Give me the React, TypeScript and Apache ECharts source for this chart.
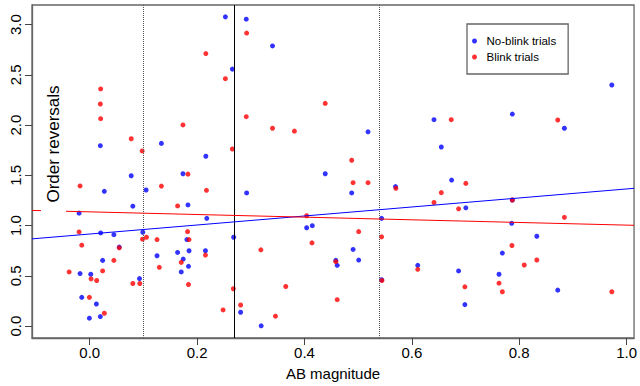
import React, { useEffect, useRef } from "react";
import * as echarts from "echarts";

// No-blink trials: [AB magnitude, order reversals]
const noBlink: number[][] = [
  [0.0198, 1.795], [0.0773, 1.496], [0.1335, 1.818], [0.105, 1.354], [0.0272, 1.341],
  [0.0803, 1.193], [-0.0198, 1.124], [0.0204, 0.927], [0.045, 0.91], [0.0989, 0.934],
  [0.055, 0.786], [0.0241, 0.654], [0.1254, 0.7], [-0.018, 0.523], [0.0019, 0.516],
  [0.0927, 0.473], [-0.0148, 0.286], [0.0124, 0.22], [0.0198, 0.095], [-0.0006, 0.079],
  [0.2527, 3.077], [0.2916, 3.054], [0.3405, 2.788], [0.2657, 2.557], [0.2163, 1.69],
  [0.1737, 1.516], [0.2923, 1.325], [0.183, 1.206], [0.2181, 1.072], [0.4041, 0.979],
  [0.4146, 0.999], [0.181, 0.861], [0.2681, 0.884], [0.1637, 0.733], [0.185, 0.75],
  [0.2156, 0.75], [0.1742, 0.667], [0.184, 0.595], [0.1705, 0.539], [0.2811, 0.138],
  [0.3194, 0.003], [0.5184, 1.933], [0.4387, 1.516], [0.6413, 2.054], [0.6549, 1.782],
  [0.6741, 1.453], [0.5696, 1.388], [0.488, 1.325], [0.7006, 1.177], [0.5437, 1.072],
  [0.4906, 0.763], [0.4584, 0.654], [0.461, 0.605], [0.501, 0.657], [0.5437, 0.461],
  [0.611, 0.605], [0.6871, 0.549], [0.6988, 0.214], [0.9725, 2.399], [0.7872, 2.11],
  [0.8842, 1.969], [0.7872, 1.255], [0.786, 1.023], [0.8328, 0.894], [0.7686, 0.727],
  [0.7624, 0.516], [0.8718, 0.358],
];

// Blink trials: [AB magnitude, order reversals]
const blink: number[][] = [
  [0.0204, 2.36], [0.0198, 2.21], [0.0204, 2.064], [0.0773, 1.864], [0.0977, 1.743],
  [-0.018, 1.395], [-0.0198, 0.937], [0.0983, 0.865], [0.1057, 0.884], [0.1254, 0.861],
  [-0.0148, 0.805], [0.055, 0.779], [0.045, 0.654], [0.1297, 0.585], [-0.0383, 0.539],
  [0.0241, 0.549], [0.0025, 0.47], [0.013, 0.454], [0.0803, 0.424], [0.0933, 0.424],
  [-0.0006, 0.286], [0.0272, 0.128], [0.2923, 2.916], [0.2163, 2.712], [0.2527, 2.462],
  [0.2916, 2.084], [0.1737, 2.002], [0.3405, 1.969], [0.3813, 1.94], [0.2657, 1.762],
  [0.183, 1.512], [0.1335, 1.393], [0.2175, 1.351], [0.1637, 1.196], [0.4041, 1.098],
  [0.414, 0.828], [0.1823, 0.94], [0.185, 0.861], [0.2156, 0.707], [0.3188, 0.759],
  [0.1705, 0.634], [0.184, 0.414], [0.2675, 0.372], [0.3652, 0.394], [0.2811, 0.21],
  [0.2484, 0.161], [0.346, 0.099], [0.4387, 2.216], [0.488, 1.65], [0.4906, 1.427],
  [0.5184, 1.427], [0.6734, 2.054], [0.7006, 1.42], [0.5703, 1.371], [0.6549, 1.328],
  [0.6413, 1.23], [0.6871, 1.167], [0.501, 0.94], [0.5437, 0.888], [0.4584, 0.641],
  [0.5443, 0.454], [0.461, 0.263], [0.611, 0.565], [0.6988, 0.391], [0.8718, 2.051],
  [0.7872, 1.255], [0.8842, 1.082], [0.7865, 0.802], [0.8328, 0.658], [0.8094, 0.608],
  [0.7624, 0.427], [0.7686, 0.342], [0.9725, 0.342],
];

// Regression line endpoints (at the plot edges)
const noBlinkFit: number[][] = [[-0.1075, 0.868], [1.0139, 1.371]];
const blinkFit: number[][] = [[-0.1075, 1.151], [1.0139, 1.003]];

// Vertical reference lines: [x, style]
const refLineX: number[] = [0.0977, 0.2657, 0.5437];
const refLineType: string[] = ["dotted", "solid", "dotted"];

const xTicks: number[] = [0, 0.2, 0.4, 0.6, 0.8, 1.0];
const yTicks: number[] = [0, 0.5, 1.0, 1.5, 2.0, 2.5, 3.0];
const xRange: number[] = [-0.1075, 1.0139];
const yRange: number[] = [-0.1183, 3.195];

const FONT = '"Liberation Sans", Arial, Helvetica, sans-serif';

export default function App() {
  const ref = useRef<HTMLDivElement>(null);
  useEffect(() => {
    if (!ref.current) return;
    const chart = echarts.init(ref.current, null, { renderer: "svg" });
    const axisLine = { show: true, onZero: false, lineStyle: { color: "#666", width: 1.3 } };
    const option: any = {
      animation: false,
      backgroundColor: "#ffffff",
      textStyle: { fontFamily: FONT },
      grid: {
        left: 32, top: 5, right: 3, bottom: 45,
        show: true, borderColor: "#666666", borderWidth: 1.3, backgroundColor: "transparent",
      },
      xAxis: {
        type: "value",
        min: xRange[0], max: xRange[1],
        name: "AB magnitude",
        nameLocation: "middle",
        nameGap: 28,
        nameTextStyle: { fontSize: 15, color: "#000", fontFamily: FONT },
        axisLine,
        splitLine: { show: false },
        axisTick: { show: true, length: 7, customValues: xTicks, lineStyle: { color: "#444", width: 1 } },
        axisLabel: {
          customValues: xTicks, fontSize: 15, color: "#000", margin: 7, fontFamily: FONT,
          formatter: (v: number) => v.toFixed(1),
        },
      },
      yAxis: {
        type: "value",
        min: yRange[0], max: yRange[1],
        axisLine,
        splitLine: { show: false },
        axisTick: { show: true, length: 7, customValues: yTicks, lineStyle: { color: "#444", width: 1 } },
        axisLabel: {
          customValues: yTicks, fontSize: 15, color: "#000", margin: 9, rotate: 90, fontFamily: FONT,
          formatter: (v: number) => v.toFixed(1),
        },
      },
      legend: {
        orient: "vertical",
        left: 467, top: 24,
        padding: [10, 12, 10, 5],
        itemWidth: 14, itemHeight: 5, itemGap: 2,
        backgroundColor: "#fff",
        borderColor: "#666", borderWidth: 1.3,
        textStyle: { fontSize: 11.5, color: "#000", lineHeight: 14, fontFamily: FONT },
        data: [
          { name: "No-blink trials", icon: "circle" },
          { name: "Blink trials", icon: "circle" },
        ],
      },
      graphic: [
        { type: "rect", z: 100, shape: { x: 41, y: 70, width: 25, height: 146 }, style: { fill: "#fff" } },
        {
          type: "text", z: 101, x: 53.5, y: 144, rotation: Math.PI / 2,
          style: { text: "Order reversals", align: "center", verticalAlign: "middle", font: `17px ${FONT}`, fill: "#000" },
        },
      ],
      series: [
        {
          name: "refLines", type: "line", data: [], silent: true,
          markLine: {
            silent: true, symbol: "none", label: { show: false },
            data: refLineX.map((x, i) => ({
              xAxis: x,
              lineStyle: { type: refLineType[i], color: refLineType[i] === "solid" ? "#000" : "#555", width: 1 },
            })),
          },
        },
        {
          name: "No-blink trials", type: "scatter", data: noBlink,
          symbol: "circle", symbolSize: 5, itemStyle: { color: "#0000ff" }, z: 3,
        },
        {
          name: "Blink trials", type: "scatter", data: blink,
          symbol: "circle", symbolSize: 5, itemStyle: { color: "#ff0000" }, z: 4,
        },
        {
          name: "noBlinkFit", type: "line", data: noBlinkFit, showSymbol: false, symbol: "none",
          lineStyle: { color: "#0000ff", width: 1 }, z: 5,
        },
        {
          name: "blinkFit", type: "line", data: blinkFit, showSymbol: false, symbol: "none",
          lineStyle: { color: "#ff0000", width: 1 }, z: 5,
        },
      ],
    };
    chart.setOption(option);
    return () => chart.dispose();
  }, []);
  return (
    <div
      ref={ref}
      style={{ position: "fixed", left: 0, top: 0, width: 640, height: 386, background: "#fff" }}
    />
  );
}
